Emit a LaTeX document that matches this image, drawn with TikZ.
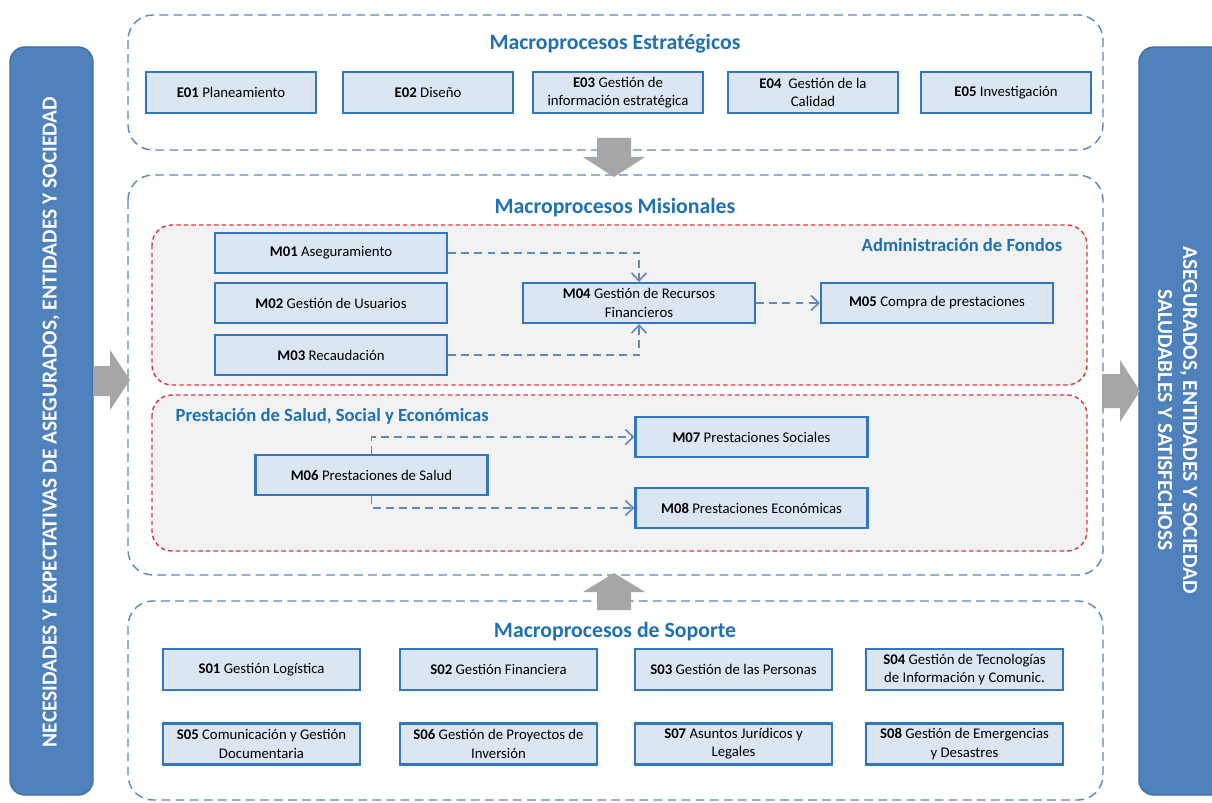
\documentclass[tikz,border=0pt]{standalone}
\usepackage{fontspec}
\setmainfont{Carlito}
\usepackage{tikz}
\usetikzlibrary{arrows.meta}
\definecolor{azulbarra}{RGB}{79,129,189}
\definecolor{azulcaja}{RGB}{220,230,242}
\definecolor{bordecaja}{RGB}{52,118,188}
\definecolor{azultitulo}{RGB}{30,114,180}
\definecolor{azultrazo}{RGB}{95,135,185}
\definecolor{rojotrazo}{RGB}{215,55,65}
\definecolor{grisfondo}{RGB}{242,242,242}
\definecolor{grisflecha}{RGB}{166,166,166}

\begin{document}
\begin{tikzpicture}[x=0.02cm, y=-0.02cm, line width=0.8pt,
    caja/.style={draw=bordecaja, fill=azulcaja, line width=1.2pt, align=center,
      inner sep=1pt, font=\fontsize{8.4}{10.4}\selectfont},
    cajae/.style={caja, minimum width=3.4cm, minimum height=0.82cm},
    cajam/.style={caja, minimum width=4.64cm, minimum height=0.8cm},
    cajas/.style={caja, minimum width=3.94cm, minimum height=0.82cm},
    marco/.style={draw=azultrazo, dash pattern=on 5pt off 3pt, rounded corners=0.5cm},
    marcorojo/.style={draw=rojotrazo, fill=grisfondo, dash pattern=on 2.5pt off 1.8pt,
      rounded corners=0.4cm},
    titulo/.style={text=azultitulo, inner sep=0pt, font=\fontsize{12.4}{14}\selectfont\bfseries},
    subtitulo/.style={text=azultitulo, inner sep=0pt, font=\fontsize{10.6}{12}\selectfont\bfseries},
    flujo/.style={draw=azultrazo, line width=0.9pt, dash pattern=on 4.5pt off 3pt,
      -{Straight Barb[length=1.6mm,width=3mm]}},
    bloque/.style={fill=grisflecha},
    barra/.style={fill=azulbarra, draw=azulbarra!85!black, rounded corners=0.3cm},
    textobarra/.style={text=white, align=center, font=\fontsize{12.2}{14.2}\selectfont\bfseries}]
    \useasboundingbox[fill=white] (0,0) rectangle (1212,803);
    % barras laterales
    \draw[barra] (10,47) rectangle (93,795);
    \node[textobarra, rotate=90] (necesidades) at (51,422)
        {NECESIDADES Y EXPECTATIVAS DE ASEGURADOS, ENTIDADES Y SOCIEDAD};
    \draw[barra] (1139,47) rectangle (1240,795);
    \node[textobarra, rotate=-90] (asegurados) at (1177.5,420)
        {ASEGURADOS, ENTIDADES Y SOCIEDAD\\SALUDABLES Y SATISFECHOSS};
    % marcos de los tres grupos
    \draw[marco] (128,15) rectangle (1103,150);
    \draw[marco] (128,175) rectangle (1103,575);
    \draw[marco] (128,601) rectangle (1103,800);
    \draw[marcorojo] (152,225) rectangle (1087,385);
    \draw[marcorojo] (152,395) rectangle (1087,551);
    % estrategicos
    \node[titulo] (estrategicos) at (615,44) {Macroprocesos Estratégicos};
    \node[cajae] (e01) at (231,92.5) {\textbf{E01} Planeamiento};
    \node[cajae] (e02) at (428,92.5) {\textbf{E02} Diseño};
    \node[cajae] (e03) at (618,92.5) {\textbf{E03} Gestión de\\información estratégica};
    \node[cajae] (e04) at (813,92.5) {\textbf{E04}\ \ Gestión de la\\Calidad};
    \node[cajae] (e05) at (1006,92.5) {\textbf{E05} Investigación};
    % misionales
    \node[titulo] (misionales) at (615,208) {Macroprocesos Misionales};
    \node[subtitulo, anchor=east] (fondos) at (1063,245) {Administración de Fondos};
    \node[cajam] (m01) at (331,253) {\textbf{M01} Aseguramiento};
    \node[cajam] (m02) at (331,303) {\textbf{M02} Gestión de Usuarios};
    \node[cajam] (m03) at (331,355) {\textbf{M03} Recaudación};
    \node[cajam] (m04) at (639,303) {\textbf{M04} Gestión de Recursos\\Financieros};
    \node[cajam] (m05) at (937,303) {\textbf{M05} Compra de prestaciones};
    \node[subtitulo, anchor=west] (prestacion) at (175,416)
        {Prestación de Salud, Social y Económicas};
    \node[cajam] (m06) at (371.5,475) {\textbf{M06} Prestaciones de Salud};
    \node[cajam] (m07) at (751.5,437) {\textbf{M07} Prestaciones Sociales};
    \node[cajam] (m08) at (751.5,508) {\textbf{M08} Prestaciones Económicas};
    \draw[flujo] (m01.east) -| (m04.north);
    \draw[flujo] (m03.east) -| (m04.south);
    \draw[flujo] (m04.east) -- (m05.west);
    \draw[flujo] (m06.north) |- (m07.west);
    \draw[flujo] (m06.south) |- (m08.west);
    % soporte
    \node[titulo] (soporte) at (615,632) {Macroprocesos de Soporte};
    \node[cajas] (s01) at (261.5,669.5) {\textbf{S01} Gestión Logística};
    \node[cajas] (s02) at (498.5,669.5) {\textbf{S02} Gestión Financiera};
    \node[cajas] (s03) at (733.5,669.5) {\textbf{S03} Gestión de las Personas};
    \node[cajas] (s04) at (964.5,669.5) {\textbf{S04} Gestión de Tecnologías\\de Información y Comunic.};
    \node[cajas] (s05) at (261.5,744) {\textbf{S05} Comunicación y Gestión\\Documentaria};
    \node[cajas] (s06) at (498.5,744) {\textbf{S06} Gestión de Proyectos de\\Inversión};
    \node[cajas] (s07) at (733.5,744) {\textbf{S07} Asuntos Jurídicos y\\Legales};
    \node[cajas] (s08) at (964.5,744) {\textbf{S08} Gestión de Emergencias\\y Desastres};
    % flechas grises
    \fill[bloque] (597,138) -- (631,138) -- (631,157) -- (645,157) -- (614,177)
        -- (583,157) -- (597,157) -- cycle;
    \fill[bloque] (597,610) -- (631,610) -- (631,592) -- (645,592) -- (614,573)
        -- (583,592) -- (597,592) -- cycle;
    \fill[bloque] (93,366) -- (110,366) -- (110,350) -- (130,380) -- (110,410)
        -- (110,396) -- (93,396) -- cycle;
    \fill[bloque] (1102,374) -- (1120,374) -- (1120,360) -- (1140,391) -- (1120,422)
        -- (1120,408) -- (1102,408) -- cycle;
\end{tikzpicture}
\end{document}
